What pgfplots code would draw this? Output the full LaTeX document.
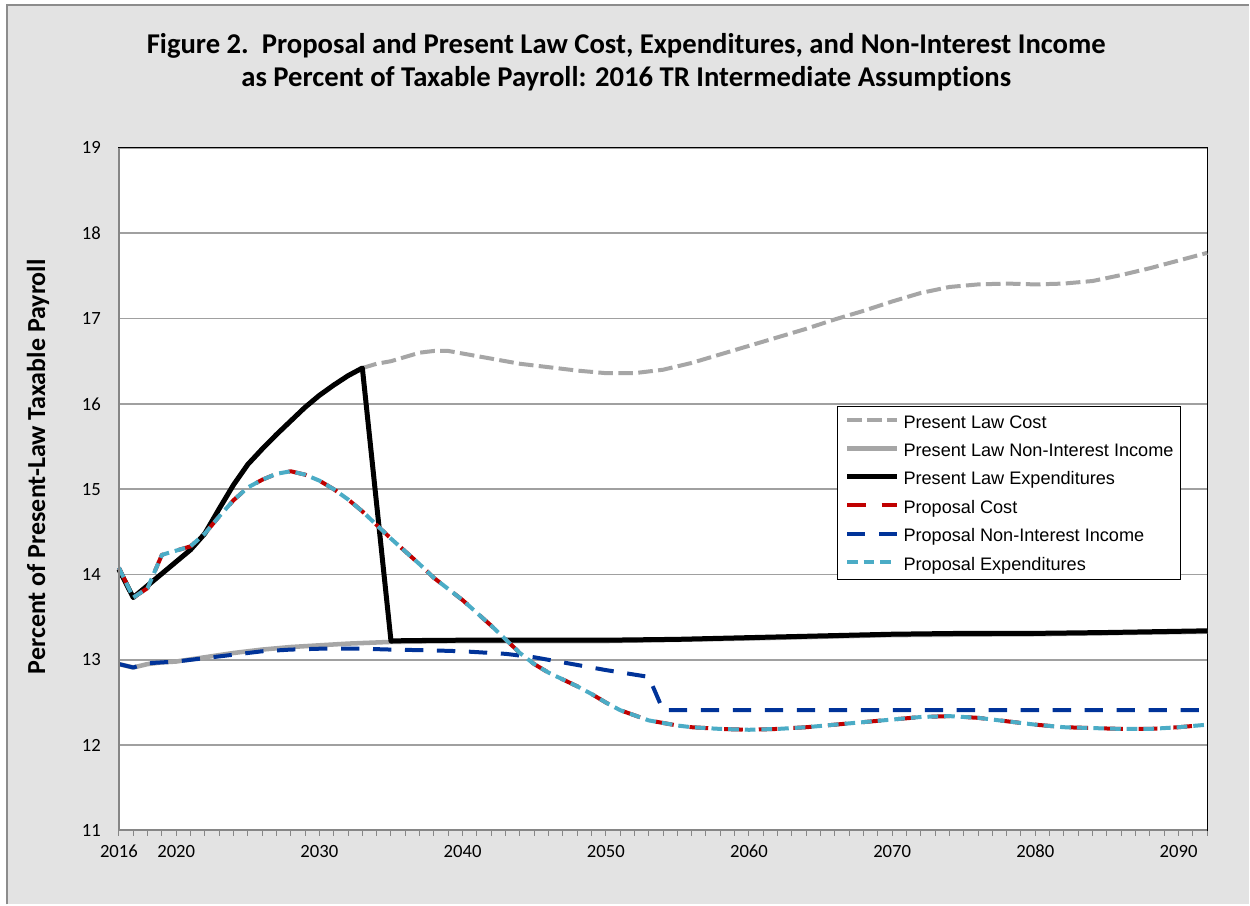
\documentclass[border=0pt]{standalone}
\usepackage{fontspec}
\setmainfont{Carlito}[Ligatures=NoCommon]
\newfontfamily\arialfont{Liberation Sans}
\usepackage{pgfplots}
\pgfplotsset{compat=1.18}
\definecolor{bggray}{HTML}{E3E3E3}
\definecolor{framegray}{HTML}{8C8C8C}
\definecolor{axisgray}{HTML}{868686}
\definecolor{gridgray}{HTML}{A0A0A0}
\definecolor{plgray}{HTML}{A6A6A6}
\definecolor{propred}{HTML}{C00000}
\definecolor{propnavy}{HTML}{003399}
\definecolor{propblue}{HTML}{4BACC6}

\pgfplotstableread{
year val
2016 14.06
2017 13.73
2018 13.87
2019 14.01
2020 14.15
2021 14.29
2022 14.48
2023 14.77
2024 15.05
2025 15.29
2026 15.47
2027 15.64
2028 15.80
2029 15.96
2030 16.10
2031 16.22
2032 16.33
2033 16.42
2034 16.47
2035 16.50
2036 16.55
2037 16.60
2038 16.62
2039 16.62
2040 16.59
2042 16.53
2044 16.47
2046 16.43
2048 16.39
2050 16.36
2052 16.36
2054 16.40
2056 16.48
2058 16.58
2060 16.68
2062 16.78
2064 16.88
2066 16.99
2068 17.09
2070 17.20
2072 17.30
2074 17.37
2076 17.40
2078 17.41
2080 17.40
2082 17.41
2084 17.44
2086 17.51
2088 17.59
2090 17.68
2092 17.77
}\plcost

\pgfplotstableread{
year val
2016 12.95
2017 12.91
2018 12.95
2019 12.97
2020 12.98
2022 13.03
2024 13.08
2026 13.12
2028 13.15
2030 13.17
2032 13.19
2035 13.21
2040 13.22
2050 13.22
2060 13.25
2070 13.29
2080 13.30
2092 13.33
}\plnii

\pgfplotstableread{
year val
2016 14.06
2017 13.73
2018 13.87
2019 14.01
2020 14.15
2021 14.29
2022 14.48
2023 14.77
2024 15.05
2025 15.29
2026 15.47
2027 15.64
2028 15.80
2029 15.96
2030 16.10
2031 16.22
2032 16.33
2033 16.42
2035 13.22
2036 13.225
2040 13.23
2045 13.23
2050 13.23
2055 13.24
2060 13.26
2065 13.28
2070 13.30
2075 13.31
2080 13.31
2085 13.32
2092 13.34
}\plexp

\pgfplotstableread{
year val
2016 14.08
2017 13.73
2018 13.84
2019 14.23
2020 14.28
2021 14.33
2022 14.48
2023 14.68
2024 14.87
2025 15.02
2026 15.11
2027 15.18
2028 15.21
2029 15.17
2030 15.10
2031 15.00
2032 14.88
2033 14.74
2034 14.58
2035 14.42
2036 14.27
2037 14.12
2038 13.96
2039 13.83
2040 13.70
2041 13.55
2042 13.40
2043 13.24
2044 13.08
2045 12.95
2046 12.85
2047 12.77
2048 12.69
2049 12.60
2050 12.50
2051 12.41
2052 12.35
2053 12.29
2054 12.26
2055 12.23
2056 12.21
2058 12.19
2060 12.18
2062 12.19
2064 12.21
2066 12.24
2068 12.27
2070 12.30
2072 12.33
2074 12.34
2076 12.32
2078 12.28
2080 12.24
2082 12.21
2084 12.20
2086 12.19
2088 12.19
2090 12.21
2092 12.24
}\propcost

\pgfplotstableread{
year val
2016 12.95
2017 12.91
2018 12.96
2019 12.97
2020 12.98
2022 13.02
2024 13.06
2026 13.10
2028 13.12
2030 13.13
2033 13.13
2035 13.12
2038 13.11
2040 13.10
2043 13.07
2045 13.03
2048 12.94
2050 12.88
2053 12.80
2054 12.41
2092 12.41
}\propnii

\begin{document}
\begin{tikzpicture}
\path[fill=white] (0,0) rectangle (937.5pt,678.75pt);
\path[fill=bggray] (5.25pt,0) rectangle (937.5pt,675pt);
\draw[color=framegray, line width=1.2pt] (5.25pt,0) -- (5.25pt,675pt) -- (937.5pt,675pt);
\node[font=\bfseries\fontsize{21.5}{24.75}\selectfont, align=center] at (470pt,632pt)
  {Figure 2.\ \ Proposal and Present Law Cost, Expenditures, and Non-Interest Income\\
   as Percent of Taxable Payroll: 2016 TR Intermediate Assumptions};
\node[font=\bfseries\fontsize{19.5}{21}\selectfont, rotate=90] at (28.5pt,328.5pt)
  {Percent of Present-Law Taxable Payroll};
\begin{axis}[
  at={(89.25pt,55.5pt)}, anchor=south west,
  scale only axis, width=816.75pt, height=512.25pt,
  xmin=2016, xmax=2092, ymin=11, ymax=19,
  clip=false,
  axis background/.style={fill=white},
  axis line style={black, line width=0.75pt},
  xtick={2016,2020,2030,2040,2050,2060,2070,2080,2090},
  minor xtick={2016,2017,...,2092},
  ytick={11,12,...,19},
  xtick pos=bottom, ytick pos=left,
  tick align=outside,
  major tick length=4pt, minor tick length=4pt,
  xtick style={color=axisgray, line width=0.75pt},
  minor x tick style={color=axisgray, line width=0.75pt},
  ytick style={draw=none},
  ymajorgrids,
  major grid style={color=gridgray, line width=1.1pt},
  /pgf/number format/assume math mode=true,
  xticklabel style={/pgf/number format/1000 sep=, font=\fontsize{14}{14}\selectfont,
    text height=9.5pt, text depth=0pt, anchor=north, yshift=-3.5pt},
  yticklabel style={font=\fontsize{14}{14}\selectfont, xshift=-6pt},
  legend style={at={(0.6602,0.6223)}, anchor=north west, draw=black, line width=0.75pt,
    fill=white, font=\arialfont\fontsize{13.6}{16}\selectfont,
    inner xsep=5pt, inner ysep=1pt, column sep=3pt,
    nodes={inner sep=0pt, text height=15.5pt, text depth=5.8pt}},
  legend cell align=left,
  legend image code/.code={\draw[#1] (0pt,1.2pt) -- (37.5pt,1.2pt);},
  every axis plot/.append style={line join=round},
]
\addplot[color=plgray, line width=3pt, dash pattern=on 11pt off 4pt] table[x=year,y=val] {\plcost};
\addlegendentry{Present Law Cost}
\addplot[color=plgray, line width=3.4pt] table[x=year,y=val] {\plnii};
\addlegendentry{Present Law Non-Interest Income}
\addplot[color=black, line width=3.75pt] table[x=year,y=val] {\plexp};
\addlegendentry{Present Law Expenditures}
\addplot[color=propred, line width=3pt, dash pattern=on 14pt off 12pt] table[x=year,y=val] {\propcost};
\addlegendentry{Proposal Cost}
\addplot[color=propnavy, line width=3pt, dash pattern=on 13.75pt off 10.25pt] table[x=year,y=val] {\propnii};
\addlegendentry{Proposal Non-Interest Income}
\addplot[color=propblue, line width=3pt, dash pattern=on 8pt off 4.5pt] table[x=year,y=val] {\propcost};
\addlegendentry{Proposal Expenditures}
\draw[color=axisgray, line width=1.5pt] (rel axis cs:0,1) -- (rel axis cs:0,0) -- (rel axis cs:1,0);
\end{axis}
\end{tikzpicture}
\end{document}
